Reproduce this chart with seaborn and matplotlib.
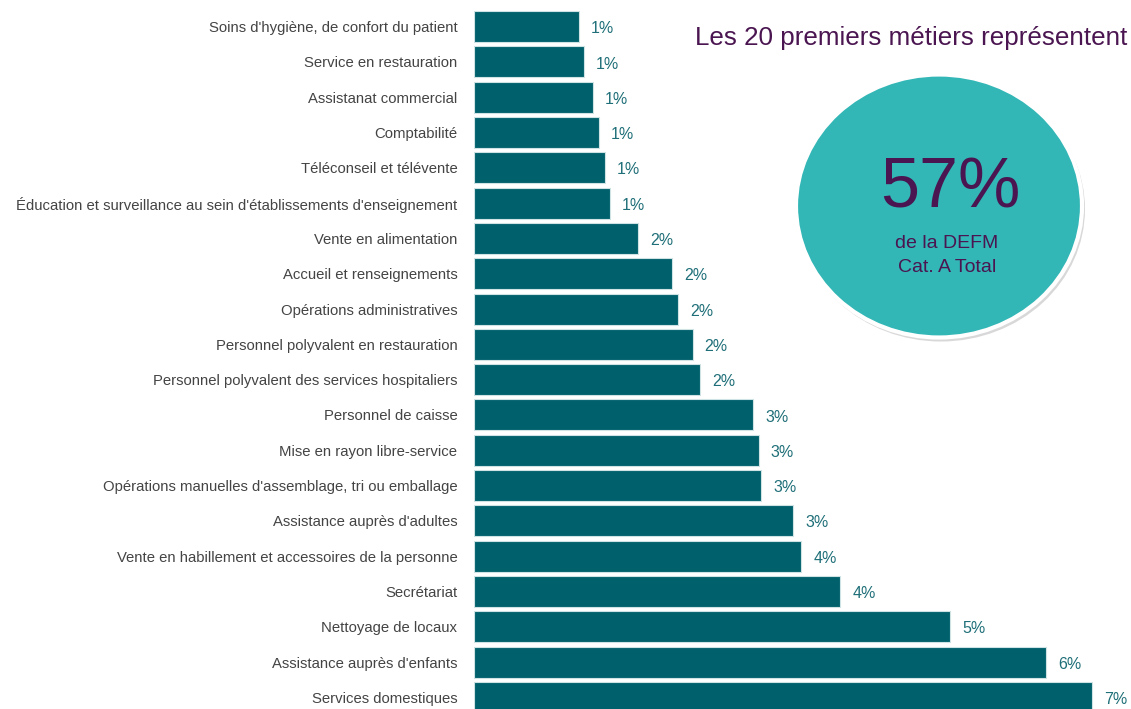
import pandas as pd
import numpy as np
import seaborn as sns
import matplotlib.pyplot as plt
from matplotlib.patches import Ellipse

metiers = [
    "Soins d'hygiène, de confort du patient",
    "Service en restauration",
    "Assistanat commercial",
    "Comptabilité",
    "Téléconseil et télévente",
    "Éducation et surveillance au sein d'établissements d'enseignement",
    "Vente en alimentation",
    "Accueil et renseignements",
    "Opérations administratives",
    "Personnel polyvalent en restauration",
    "Personnel polyvalent des services hospitaliers",
    "Personnel de caisse",
    "Mise en rayon libre-service",
    "Opérations manuelles d'assemblage, tri ou emballage",
    "Assistance auprès d'adultes",
    "Vente en habillement et accessoires de la personne",
    "Secrétariat",
    "Nettoyage de locaux",
    "Assistance auprès d'enfants",
    "Services domestiques",
]
parts = [1.13, 1.18, 1.28, 1.34, 1.41, 1.46, 1.76, 2.13, 2.19, 2.35,
         2.43, 3.00, 3.06, 3.09, 3.43, 3.52, 3.94, 5.12, 6.15, 6.65]
total = "57%"

df = pd.DataFrame({"metier": metiers, "part": parts})

sns.set_style("white")
plt.rcParams["font.family"] = ["Liberation Sans", "DejaVu Sans"]

fig = plt.figure(figsize=(11.31, 7.09), dpi=100)
ax = fig.add_axes([474 / 1131, -6 / 709, 657 / 1131, 706 / 709])

sns.barplot(data=df, y="metier", x="part", orient="h", color="#00606b",
            saturation=1, width=0.88, edgecolor="#cfe3e4", linewidth=0.8, ax=ax)
ax.set_xlim(0, 657 / 93)
ax.set_ylim(len(metiers) - 0.5, -0.5)
ax.set_xlabel("")
ax.set_ylabel("")
ax.set_xticks([])
ax.tick_params(axis="y", length=0, pad=12, labelsize=10.75, labelcolor="#444444")
sns.despine(ax=ax, left=True, bottom=True)

for i, v in enumerate(parts):
    ax.text(v + 0.13, i + 0.06, f"{v:.0f}%", va="center", ha="left",
            fontsize=11.5, color="#1f6f78")

# title and highlight circle
fig.text(1127 / 1131, 1 - 38 / 709, "Les 20 premiers métiers représentent",
         ha="right", va="center", fontsize=18.7, color="#4a1550")

shadow = Ellipse((941 / 1131, 1 - 209 / 709), 288 / 1131, 265 / 709,
                 transform=fig.transFigure, facecolor="#d8d8d8", edgecolor="none")
circle = Ellipse((939 / 1131, 1 - 206 / 709), 286 / 1131, 263 / 709,
                 transform=fig.transFigure, facecolor="#33b6b6",
                 edgecolor="white", linewidth=3)
fig.patches.extend([shadow, circle])

fig.text(950 / 1131, 1 - 190 / 709, total, ha="center", va="center",
         fontsize=50.5, color="#4a1550")
fig.text(947 / 1131, 1 - 243 / 709, "de la DEFM", ha="center", va="center",
         fontsize=14, color="#4a1550")
fig.text(947 / 1131, 1 - 267 / 709, "Cat. A Total", ha="center", va="center",
         fontsize=14, color="#4a1550")

plt.savefig("out.png", dpi=100)
plt.close()
